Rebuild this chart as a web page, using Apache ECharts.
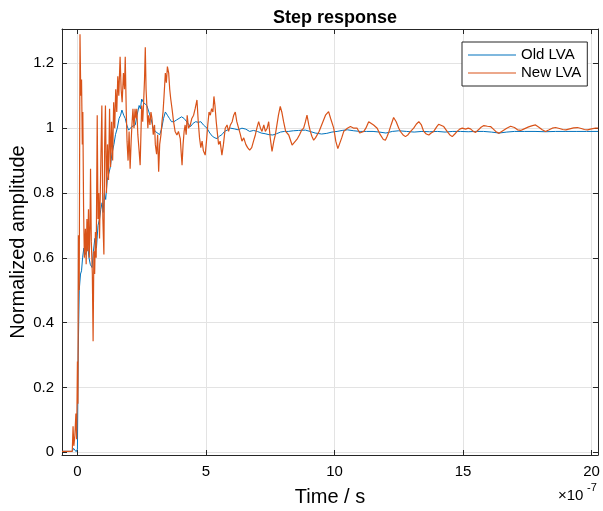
<!DOCTYPE html>
<html>
<head>
<meta charset="utf-8">
<script src="https://cdn.jsdelivr.net/npm/echarts@6/dist/echarts.min.js"></script>
<style>html,body{margin:0;padding:0;background:#fff;}#c{width:603px;height:511px;}</style>
</head>
<body>
<div id="c"></div>
<script>
// Time in units of 1e-7 s
const xTicks = [0, 5, 10, 15, 20];
const yTicks = [0, 0.2, 0.4, 0.6, 0.8, 1, 1.2];
const seriesNames = ['Old LVA', 'New LVA'];

const oldT = [-0.6,-0.2,-0.15,-0.1,-0.05,0.0,0.03,0.07,0.12,0.16,0.2,0.25,0.3,0.35,0.4,0.45,0.5,0.57,0.62,0.68,0.74,0.8,0.86,0.91,0.96,1.0,1.05,1.1,1.16,1.22,1.28,1.34,1.42,1.48,1.55,1.62,1.68,1.73,1.8,1.86,1.92,1.99,2.05,2.12,2.18,2.25,2.32,2.4,2.45,2.5,2.56,2.62,2.7,2.78,2.86,2.95,3.03,3.1,3.2,3.28,3.35,3.42,3.5,3.58,3.66,3.75,3.85,3.95,4.05,4.15,4.2,4.3,4.4,4.5,4.6,4.7,4.8,4.9,5.04,5.15,5.25,5.35,5.43,5.52,5.62,5.72,5.85,5.95,6.1,6.25,6.4,6.55,6.7,6.85,7.0,7.15,7.3,7.45,7.6,7.75,7.9,8.05,8.2,8.4,8.6,8.87,9.05,9.25,9.5,9.7,9.9,10.1,10.3,10.5,10.75,11.0,11.25,11.5,11.75,12.0,12.25,12.5,12.8,13.1,13.4,13.7,14.0,14.3,14.6,14.9,15.2,15.5,15.8,16.1,16.4,16.7,17.0,17.4,17.8,18.2,18.6,19.0,19.4,19.8,20.25];
const oldV = [0.003,0.003,0.012,0.012,0.002,0.01,0.3,0.5,0.55,0.56,0.6,0.63,0.61,0.62,0.64,0.6,0.58,0.57,0.62,0.66,0.63,0.7,0.72,0.75,0.77,0.74,0.8,0.78,0.84,0.86,0.88,0.92,0.95,0.98,1.0,1.03,1.04,1.056,1.04,1.03,1.01,0.994,1.0,1.005,1.0,1.01,1.04,1.07,1.06,1.09,1.08,1.075,1.07,1.05,1.03,1.0,0.99,0.99,0.98,1.0,1.03,1.05,1.04,1.03,1.02,1.02,1.025,1.03,1.035,1.03,1.036,1.015,1.005,1.015,1.02,1.018,1.02,1.01,1.0,0.985,0.975,0.97,0.968,0.975,0.98,0.99,0.995,1.0,0.998,0.995,1.0,0.997,0.99,0.993,0.99,0.985,0.983,0.98,0.979,0.983,0.988,0.99,0.99,0.992,0.993,0.994,0.99,0.985,0.982,0.984,0.988,0.99,0.993,0.995,0.992,0.99,0.99,0.99,0.988,0.985,0.99,0.992,0.99,0.988,0.99,0.989,0.99,0.988,0.99,0.99,0.989,0.99,0.99,0.988,0.985,0.988,0.99,0.99,0.99,0.989,0.99,0.99,0.99,0.99,0.99];

const newT = [-0.6,-0.2,-0.17,-0.14,-0.1,-0.06,-0.03,0.0,0.02,0.04,0.07,0.1,0.13,0.16,0.19,0.21,0.24,0.27,0.31,0.34,0.37,0.40,0.43,0.46,0.49,0.51,0.54,0.58,0.61,0.64,0.67,0.70,0.73,0.77,0.80,0.83,0.86,0.90,0.95,0.99,1.03,1.06,1.09,1.13,1.17,1.21,1.25,1.29,1.33,1.37,1.41,1.45,1.49,1.53,1.57,1.61,1.66,1.70,1.74,1.79,1.83,1.86,1.90,1.93,1.97,2.01,2.05,2.09,2.12,2.16,2.20,2.24,2.28,2.31,2.35,2.40,2.44,2.47,2.50,2.54,2.57,2.61,2.64,2.67,2.70,2.74,2.77,2.82,2.86,2.90,2.95,3.00,3.03,3.08,3.12,3.16,3.20,3.25,3.29,3.33,3.37,3.42,3.46,3.50,3.55,3.59,3.63,3.68,3.74,3.80,3.87,3.93,4.00,4.04,4.07,4.11,4.15,4.19,4.23,4.27,4.32,4.39,4.45,4.52,4.58,4.65,4.70,4.75,4.80,4.85,4.90,4.97,5.02,5.07,5.12,5.17,5.22,5.27,5.31,5.35,5.40,5.45,5.49,5.55,5.62,5.68,5.75,5.82,5.88,5.95,6.02,6.08,6.14,6.20,6.27,6.34,6.40,6.47,6.55,6.62,6.70,6.78,6.85,6.92,6.98,7.05,7.12,7.18,7.25,7.31,7.38,7.44,7.50,7.57,7.64,7.70,7.76,7.82,7.89,7.95,8.02,8.10,8.22,8.35,8.41,8.48,8.56,8.64,8.72,8.80,8.87,8.93,9.00,9.06,9.12,9.19,9.26,9.32,9.40,9.45,9.55,9.65,9.72,9.77,9.85,9.97,10.05,10.13,10.19,10.28,10.36,10.50,10.62,10.75,10.88,10.98,11.05,11.14,11.22,11.33,11.40,11.52,11.66,11.78,11.90,11.98,12.05,12.12,12.20,12.30,12.40,12.50,12.57,12.66,12.76,12.86,12.96,13.08,13.18,13.28,13.38,13.47,13.57,13.67,13.76,13.86,13.98,14.05,14.12,14.25,14.38,14.48,14.58,14.68,14.77,14.87,14.97,15.1,15.2,15.29,15.4,15.49,15.6,15.7,15.81,15.95,16.07,16.17,16.27,16.4,16.55,16.7,16.85,17.0,17.12,17.24,17.38,17.55,17.7,17.82,17.95,18.08,18.21,18.35,18.47,18.6,18.75,18.88,19.0,19.15,19.3,19.45,19.6,19.72,19.84,20.0,20.15,20.25];
const newV = [0.003,0.003,0.08,0.02,0.05,0.12,0.04,0.28,0.15,0.67,0.5,1.29,1.1,1.15,0.95,1.05,0.75,0.6,0.69,0.58,0.72,0.62,0.75,0.6,0.7,0.875,0.65,0.55,0.343,0.62,0.55,0.68,0.6,1.04,0.72,0.8,0.66,0.85,1.07,0.72,0.61,0.95,1.07,0.8,0.95,0.84,1.06,0.88,1.02,0.9,1.08,1.0,1.12,1.05,1.16,1.1,1.22,1.12,1.08,1.17,1.12,1.22,1.05,0.96,0.9,0.99,0.875,0.96,1.01,1.06,1.0,1.06,1.03,1.06,0.98,0.93,0.886,0.98,1.07,1.02,1.07,1.15,1.25,1.12,1.07,1.0,1.04,1.01,1.05,1.03,0.98,1.01,0.95,0.92,0.98,0.866,0.95,0.98,1.02,1.05,1.1,1.17,1.14,1.19,1.17,1.12,1.09,1.06,1.02,0.99,0.979,0.99,0.968,0.92,0.886,0.95,0.99,1.01,0.98,1.04,1.0,1.01,1.03,1.04,1.06,1.087,1.02,0.97,0.94,0.96,0.93,0.917,0.96,1.01,1.05,1.04,1.06,1.05,1.098,1.07,1.02,0.98,0.95,0.96,0.917,0.95,1.0,1.01,0.99,1.01,1.02,1.04,1.05,1.02,1.0,0.98,0.96,0.97,0.95,0.94,0.932,0.94,0.96,0.979,1.0,1.02,1.0,0.99,1.01,0.99,1.0,1.02,0.97,0.928,0.96,0.98,1.01,1.04,1.067,1.05,1.02,0.99,0.979,0.948,0.945,0.96,0.968,0.98,0.994,1.0,1.02,1.04,1.01,0.99,0.975,0.963,0.97,0.97,0.99,1.0,1.02,1.04,1.045,1.051,1.03,1.0,0.96,0.937,0.94,0.97,0.99,1.0,1.005,1.0,1.0,0.985,0.979,0.99,1.0,1.02,1.02,1.01,1.0,0.98,0.965,0.963,0.975,0.99,1.01,1.033,1.02,1.0,0.989,0.98,0.974,0.98,0.99,1.0,1.012,1.02,1.01,0.99,0.982,0.979,0.985,0.99,1.005,1.012,1.018,1.005,0.99,0.98,0.974,0.982,0.99,0.997,1.0,0.997,1.0,0.998,0.99,0.987,0.995,1.003,1.008,1.006,1.005,0.998,0.99,0.984,0.992,1.0,1.006,1.002,0.995,0.993,0.998,1.004,1.008,1.01,1.003,0.995,0.99,0.995,1.0,1.002,0.999,0.996,0.995,0.998,1.001,1.002,0.999,0.996,0.995,0.998,1.0,1.0];

const font = 'Liberation Sans, Arial, Helvetica, sans-serif';
const axisColor = '#262626';
const gridColor = '#e3e3e3';

function pairs(t, v) { return t.map((x, i) => [x, v[i]]); }
function fmt(v) { return String(Math.round(v * 10) / 10); }

const chart = echarts.init(document.getElementById('c'), null, { renderer: 'canvas' });
chart.setOption({
  animation: false,
  backgroundColor: '#fff',
  title: {
    text: 'Step response', left: 330, top: 4, textAlign: 'center',
    textStyle: { fontFamily: font, fontWeight: 'bold', fontSize: 18, color: '#000' }
  },
  grid: { left: 62, top: 29, right: 5, bottom: 56, containLabel: false, outerBoundsMode: 'none' },
  legend: {
    data: seriesNames,
    orient: 'vertical', left: 462, top: 42,
    icon: 'rect',
    itemWidth: 48, itemHeight: 1.2, itemGap: 2,
    padding: [5, 6, 5, 6],
    borderColor: axisColor, borderWidth: 1, backgroundColor: '#fff',
    textStyle: { fontFamily: font, fontSize: 15, color: '#000', lineHeight: 16 }
  },
  xAxis: [{
    type: 'value', min: -0.6, max: 20.25, position: 'bottom',
    name: 'Time / s', nameLocation: 'middle', nameGap: 32, nameMoveOverlap: false,
    nameTextStyle: { fontFamily: font, fontSize: 20, color: '#000' },
    axisLine: { show: true, onZero: false, lineStyle: { color: axisColor, width: 1 } },
    axisTick: { show: true, inside: true, length: 5, customValues: xTicks, lineStyle: { color: axisColor } },
    axisLabel: { customValues: xTicks, margin: 9, fontFamily: font, fontSize: 15, color: '#000' },
    splitLine: { show: true, lineStyle: { color: gridColor, width: 1 } }
  }, {
    type: 'value', min: -0.6, max: 20.25, position: 'top',
    axisLine: { show: true, onZero: false, lineStyle: { color: axisColor, width: 1 } },
    axisTick: { show: true, inside: true, length: 5, customValues: xTicks, lineStyle: { color: axisColor } },
    axisLabel: { show: false },
    splitLine: { show: false }
  }],
  yAxis: [{
    type: 'value', min: -0.0083, max: 1.306, position: 'left',
    name: 'Normalized amplitude', nameLocation: 'middle', nameGap: 34, nameMoveOverlap: false,
    nameTextStyle: { fontFamily: font, fontSize: 20, color: '#000' },
    axisLine: { show: true, onZero: false, lineStyle: { color: axisColor, width: 1 } },
    axisTick: { show: true, inside: true, length: 5, customValues: yTicks, lineStyle: { color: axisColor } },
    axisLabel: { customValues: yTicks, margin: 8, fontFamily: font, fontSize: 15, color: '#000', formatter: fmt },
    splitLine: { show: true, lineStyle: { color: gridColor, width: 1 } }
  }, {
    type: 'value', min: -0.0083, max: 1.306, position: 'right',
    axisLine: { show: true, onZero: false, lineStyle: { color: axisColor, width: 1 } },
    axisTick: { show: true, inside: true, length: 5, customValues: yTicks, lineStyle: { color: axisColor } },
    axisLabel: { show: false },
    splitLine: { show: false }
  }],
  graphic: [
    { type: 'text', left: 558, top: 488, style: { text: '×10', font: '15px ' + font, fill: '#000' } },
    { type: 'text', left: 587, top: 482, style: { text: '-7', font: '11px ' + font, fill: '#000' } }
  ],
  series: [{
    name: seriesNames[0], type: 'line', xAxisIndex: 0, yAxisIndex: 0,
    data: pairs(oldT, oldV), symbol: 'none', showSymbol: false,
    lineStyle: { color: '#0072BD', width: 1 }, itemStyle: { color: '#0072BD' }, z: 3
  }, {
    name: seriesNames[1], type: 'line', xAxisIndex: 0, yAxisIndex: 0,
    data: pairs(newT, newV), symbol: 'none', showSymbol: false,
    lineStyle: { color: '#D95319', width: 1.2 }, itemStyle: { color: '#D95319' }, z: 4
  }]
});
</script>
</body>
</html>
